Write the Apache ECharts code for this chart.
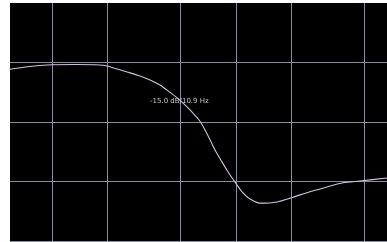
<!DOCTYPE html>
<html>
<head>
<meta charset="utf-8">
<script src="https://cdn.jsdelivr.net/npm/echarts@6/dist/echarts.min.js"></script>
<style>
html,body{margin:0;padding:0;background:#fff;}
#c{width:387px;height:242px;}
</style>
</head>
<body>
<div id="c"></div>
<script>
// Frequency (Hz, log axis) and level (dB)
const freqs = [59, 76, 100, 133, 182, 199, 226, 256, 301, 341, 386, 422, 466, 509, 562, 637, 696, 769, 839, 893, 988, 1091, 1191, 1350, 1670, 2040, 2525, 3123, 3815, 4721, 6618];
const dbValues = [-1.2, -0.75, -0.45, -0.42, -0.5, -0.67, -1.17, -1.67, -2.34, -3.0, -3.85, -4.7, -5.7, -6.7, -8.0, -9.9, -12.0, -14.7, -16.7, -18.1, -20.1, -21.9, -22.9, -23.6, -23.4, -22.6, -21.7, -20.9, -20.2, -19.9, -19.4];
const gridFreqs = [100, 200, 500, 1000, 2000, 5000];
const gridDbs = [0, -10, -20, -30];
const readout = '-15.0 dB/10.9 Hz';

const chart = echarts.init(document.getElementById('c'), null, {renderer: 'canvas'});
const gridLineStyle = {color: '#8d97a8', width: 1, type: 'solid', opacity: 0.95};
chart.setOption({
  animation: false,
  backgroundColor: '#fff',
  grid: {left: 10, right: 0, top: 3, bottom: 0, show: true, backgroundColor: '#000', borderWidth: 0},
  xAxis: {
    type: 'log', min: 59.1, max: 6618,
    axisLine: {show: false}, axisTick: {show: false}, axisLabel: {show: false},
    splitLine: {show: false}, minorSplitLine: {show: false}
  },
  yAxis: {
    type: 'value', min: -30.1, max: 9.87,
    axisLine: {show: false}, axisTick: {show: false}, axisLabel: {show: false},
    splitLine: {show: false}
  },
  series: [
    {
      type: 'line', data: [], silent: true,
      markLine: {
        silent: true, symbol: 'none', label: {show: false},
        lineStyle: gridLineStyle,
        data: gridFreqs.map(f => ({xAxis: f})).concat(gridDbs.map(d => ({yAxis: d})))
      }
    },
    {
      type: 'line', smooth: 0.25, showSymbol: false, silent: true,
      data: freqs.map((f, i) => [f, dbValues[i]]),
      lineStyle: {color: '#d6c0e0', width: 1.1},
      z: 5
    }
  ],
  graphic: [{
    type: 'text', left: 150, top: 98, z: 10,
    style: {text: readout, fill: '#c4c4c4', font: '7px "DejaVu Sans", sans-serif'}
  }]
});
</script>
</body>
</html>
